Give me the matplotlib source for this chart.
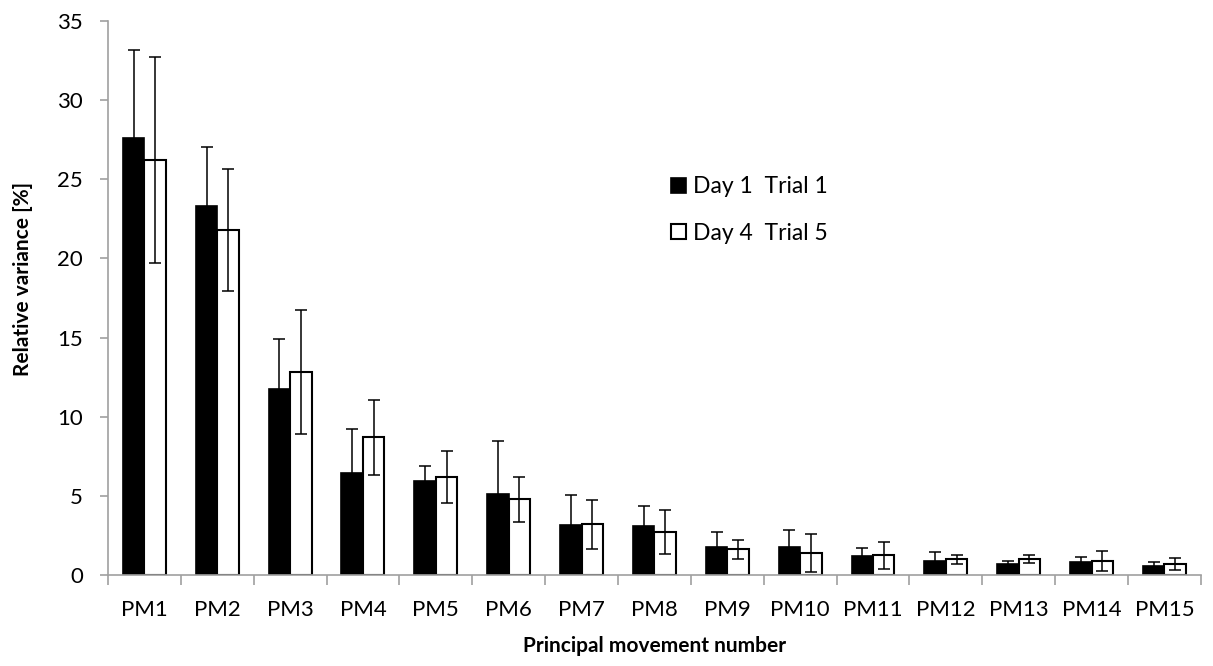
import numpy as np
import matplotlib
matplotlib.use("Agg")
import matplotlib.pyplot as plt
from matplotlib.ticker import FixedLocator

plt.rcParams["font.family"] = ["Lato", "DejaVu Sans"]

labels = ["PM%d" % i for i in range(1, 16)]
day1 = [27.57, 23.32, 11.79, 6.46, 5.97, 5.15, 3.16, 3.11, 1.77, 1.79, 1.22, 0.93, 0.70, 0.85, 0.61]
day1_err = [5.6, 3.7, 3.15, 2.78, 0.95, 3.33, 1.9, 1.28, 0.96, 1.09, 0.5, 0.57, 0.23, 0.34, 0.24]
day4 = [26.2, 21.79, 12.85, 8.71, 6.22, 4.79, 3.22, 2.73, 1.66, 1.41, 1.26, 1.01, 1.04, 0.91, 0.72]
day4_err = [6.5, 3.85, 3.9, 2.37, 1.65, 1.42, 1.53, 1.38, 0.6, 1.2, 0.84, 0.3, 0.24, 0.66, 0.4]

x = np.arange(len(labels))
w = 0.295

fig = plt.figure(figsize=(12.13, 6.66), dpi=100)
ax = fig.add_axes([0.089, 0.136, 0.901, 0.833])

ekw = dict(ecolor="black", elinewidth=1.1, capsize=4.3, capthick=1.1)
ax.bar(x - w / 2, day1, w, color="black", edgecolor="black", linewidth=1.2,
       yerr=day1_err, error_kw=ekw, label="Day 1  Trial 1")
ax.bar(x + w / 2, day4, w, color="white", edgecolor="black", linewidth=1.5,
       yerr=day4_err, error_kw=ekw, label="Day 4  Trial 5")

ax.set_xlim(-0.5, len(labels) - 0.5)
ax.set_ylim(0, 35)
ax.set_yticks(range(0, 36, 5))
ax.set_xticks(x)
ax.set_xticklabels(labels)
ax.xaxis.set_minor_locator(FixedLocator(np.arange(-0.5, len(labels), 1.0)))

for s in ("top", "right"):
    ax.spines[s].set_visible(False)
for s in ("left", "bottom"):
    ax.spines[s].set_color("#a0a0a0")
    ax.spines[s].set_linewidth(1.2)

ax.tick_params(axis="x", which="major", length=0, pad=18, labelsize=16)
ax.tick_params(axis="x", which="minor", length=7, width=1.2, color="#a0a0a0", direction="out")
ax.tick_params(axis="y", which="major", length=6, width=1.2, color="#a0a0a0", pad=12, labelsize=16)

ax.set_xlabel("Principal movement number", fontsize=15, fontweight="bold")
ax.set_ylabel("Relative variance [%]", fontsize=15, fontweight="bold")
ax.xaxis.set_label_coords(0.5, -0.11)
ax.yaxis.set_label_coords(-0.0686, 0.534)

ax.legend(loc="upper left", bbox_to_anchor=(0.553, 0.735), bbox_transform=fig.transFigure,
          frameon=False, fontsize=16.5, handlelength=0.65, handleheight=0.65,
          handletextpad=0.3, labelspacing=1.1, borderpad=0, borderaxespad=0)

fig.savefig("out.png", dpi=100)
